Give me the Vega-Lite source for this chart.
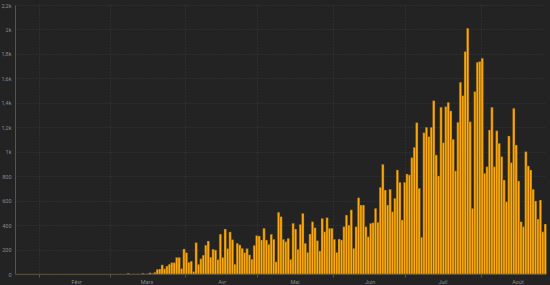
{
"$schema": "https://vega.github.io/schema/vega-lite/v6.json",
"width": 531, "height": 269,
"autosize": {"type": "none"},
"padding": {"left": 15, "top": 5, "right": 4, "bottom": 11},
"background": "#232323",
"config": {"view": {"stroke": null}, "font": "Roboto"},
"data": {"values": [
{"date":"2020-01-22","v":0},{"date":"2020-01-23","v":0},{"date":"2020-01-24","v":0},{"date":"2020-01-25","v":0},{"date":"2020-01-26","v":0},{"date":"2020-01-27","v":0},{"date":"2020-01-28","v":0},{"date":"2020-01-29","v":0},{"date":"2020-01-30","v":0},{"date":"2020-01-31","v":0},
{"date":"2020-02-01","v":0},{"date":"2020-02-02","v":0},{"date":"2020-02-03","v":0},{"date":"2020-02-04","v":0},{"date":"2020-02-05","v":0},{"date":"2020-02-06","v":0},{"date":"2020-02-07","v":0},{"date":"2020-02-08","v":0},{"date":"2020-02-09","v":0},{"date":"2020-02-10","v":0},
{"date":"2020-02-11","v":0},{"date":"2020-02-12","v":0},{"date":"2020-02-13","v":0},{"date":"2020-02-14","v":0},{"date":"2020-02-15","v":0},{"date":"2020-02-16","v":0},{"date":"2020-02-17","v":0},{"date":"2020-02-18","v":0},{"date":"2020-02-19","v":0},{"date":"2020-02-20","v":0},
{"date":"2020-02-21","v":0},{"date":"2020-02-22","v":0},{"date":"2020-02-23","v":0},{"date":"2020-02-24","v":0},{"date":"2020-02-25","v":0},{"date":"2020-02-26","v":0},{"date":"2020-02-27","v":0},{"date":"2020-02-28","v":0},{"date":"2020-02-29","v":0},
{"date":"2020-03-01","v":0},{"date":"2020-03-02","v":0},{"date":"2020-03-03","v":0},{"date":"2020-03-04","v":0},{"date":"2020-03-05","v":0},{"date":"2020-03-06","v":0},{"date":"2020-03-07","v":0},{"date":"2020-03-08","v":6},{"date":"2020-03-09","v":0},{"date":"2020-03-10","v":1},
{"date":"2020-03-11","v":0},{"date":"2020-03-12","v":1},{"date":"2020-03-13","v":0},{"date":"2020-03-14","v":6},{"date":"2020-03-15","v":1},{"date":"2020-03-16","v":2},{"date":"2020-03-17","v":10},{"date":"2020-03-18","v":4},{"date":"2020-03-19","v":14},{"date":"2020-03-20","v":38},
{"date":"2020-03-21","v":41},{"date":"2020-03-22","v":75},{"date":"2020-03-23","v":43},{"date":"2020-03-24","v":65},{"date":"2020-03-25","v":80},{"date":"2020-03-26","v":93},{"date":"2020-03-27","v":93},{"date":"2020-03-28","v":136},{"date":"2020-03-29","v":136},{"date":"2020-03-30","v":44},{"date":"2020-03-31","v":205},
{"date":"2020-04-01","v":175},{"date":"2020-04-02","v":96},{"date":"2020-04-03","v":105},{"date":"2020-04-04","v":20},{"date":"2020-04-05","v":257},{"date":"2020-04-06","v":79},{"date":"2020-04-07","v":125},{"date":"2020-04-08","v":154},{"date":"2020-04-09","v":236},{"date":"2020-04-10","v":270},
{"date":"2020-04-11","v":138},{"date":"2020-04-12","v":203},{"date":"2020-04-13","v":196},{"date":"2020-04-14","v":118},{"date":"2020-04-15","v":326},{"date":"2020-04-16","v":136},{"date":"2020-04-17","v":368},{"date":"2020-04-18","v":208},{"date":"2020-04-19","v":344},{"date":"2020-04-20","v":281},
{"date":"2020-04-21","v":80},{"date":"2020-04-22","v":251},{"date":"2020-04-23","v":238},{"date":"2020-04-24","v":210},{"date":"2020-04-25","v":175},{"date":"2020-04-26","v":208},{"date":"2020-04-27","v":157},{"date":"2020-04-28","v":121},{"date":"2020-04-29","v":234},{"date":"2020-04-30","v":315},
{"date":"2020-05-01","v":311},{"date":"2020-05-02","v":278},{"date":"2020-05-03","v":374},{"date":"2020-05-04","v":278},{"date":"2020-05-05","v":243},{"date":"2020-05-06","v":325},{"date":"2020-05-07","v":284},{"date":"2020-05-08","v":100},{"date":"2020-05-09","v":505},{"date":"2020-05-10","v":469},
{"date":"2020-05-11","v":284},{"date":"2020-05-12","v":265},{"date":"2020-05-13","v":292},{"date":"2020-05-14","v":120},{"date":"2020-05-15","v":415},{"date":"2020-05-16","v":368},{"date":"2020-05-17","v":202},{"date":"2020-05-18","v":406},{"date":"2020-05-19","v":496},{"date":"2020-05-20","v":251},
{"date":"2020-05-21","v":177},{"date":"2020-05-22","v":327},{"date":"2020-05-23","v":428},{"date":"2020-05-24","v":379},{"date":"2020-05-25","v":273},{"date":"2020-05-26","v":188},{"date":"2020-05-27","v":455},{"date":"2020-05-28","v":346},{"date":"2020-05-29","v":461},{"date":"2020-05-30","v":374},{"date":"2020-05-31","v":374},
{"date":"2020-06-01","v":284},{"date":"2020-06-02","v":177},{"date":"2020-06-03","v":286},{"date":"2020-06-04","v":278},{"date":"2020-06-05","v":387},{"date":"2020-06-06","v":482},{"date":"2020-06-07","v":400},{"date":"2020-06-08","v":525},{"date":"2020-06-09","v":210},{"date":"2020-06-10","v":387},
{"date":"2020-06-11","v":624},{"date":"2020-06-12","v":564},{"date":"2020-06-13","v":564},{"date":"2020-06-14","v":387},{"date":"2020-06-15","v":305},{"date":"2020-06-16","v":414},{"date":"2020-06-17","v":420},{"date":"2020-06-18","v":537},{"date":"2020-06-19","v":423},{"date":"2020-06-20","v":709},
{"date":"2020-06-21","v":897},{"date":"2020-06-22","v":687},{"date":"2020-06-23","v":564},{"date":"2020-06-24","v":693},{"date":"2020-06-25","v":510},{"date":"2020-06-26","v":619},{"date":"2020-06-27","v":851},{"date":"2020-06-28","v":750},{"date":"2020-06-29","v":442},{"date":"2020-06-30","v":750},
{"date":"2020-07-01","v":818},{"date":"2020-07-02","v":810},{"date":"2020-07-03","v":952},{"date":"2020-07-04","v":1036},{"date":"2020-07-05","v":1238},{"date":"2020-07-06","v":701},{"date":"2020-07-07","v":300},{"date":"2020-07-08","v":1156},{"date":"2020-07-09","v":1200},{"date":"2020-07-10","v":1124},
{"date":"2020-07-11","v":1200},{"date":"2020-07-12","v":1418},{"date":"2020-07-13","v":974},{"date":"2020-07-14","v":802},{"date":"2020-07-15","v":1364},{"date":"2020-07-16","v":1074},{"date":"2020-07-17","v":1369},{"date":"2020-07-18","v":1404},{"date":"2020-07-19","v":1334},{"date":"2020-07-20","v":1102},
{"date":"2020-07-21","v":843},{"date":"2020-07-22","v":1241},{"date":"2020-07-23","v":1568},{"date":"2020-07-24","v":1459},{"date":"2020-07-25","v":1819},{"date":"2020-07-26","v":2010},{"date":"2020-07-27","v":1246},{"date":"2020-07-28","v":537},{"date":"2020-07-29","v":1492},{"date":"2020-07-30","v":1732},{"date":"2020-07-31","v":1738},
{"date":"2020-08-01","v":1765},{"date":"2020-08-02","v":824},{"date":"2020-08-03","v":878},{"date":"2020-08-04","v":1178},{"date":"2020-08-05","v":1364},{"date":"2020-08-06","v":878},{"date":"2020-08-07","v":1172},{"date":"2020-08-08","v":1069},{"date":"2020-08-09","v":960},{"date":"2020-08-10","v":769},
{"date":"2020-08-11","v":592},{"date":"2020-08-12","v":1129},{"date":"2020-08-13","v":911},{"date":"2020-08-14","v":1355},{"date":"2020-08-15","v":1055},{"date":"2020-08-16","v":761},{"date":"2020-08-17","v":428},{"date":"2020-08-18","v":387},{"date":"2020-08-19","v":1001},{"date":"2020-08-20","v":884},
{"date":"2020-08-21","v":851},{"date":"2020-08-22","v":693},{"date":"2020-08-23","v":597},{"date":"2020-08-24","v":450},{"date":"2020-08-25","v":605},{"date":"2020-08-26","v":346},{"date":"2020-08-27","v":409}
]},
"mark": {"type": "bar", "fill": "#fcaa0c", "stroke": "#5a3d08", "strokeWidth": 0.4, "binSpacing": 0},
"encoding": {
  "x": {"field": "date", "type": "temporal", "timeUnit": "utcyearmonthdate",
    "scale": {"domain": [{"year": 2020, "month": 1, "date": 22, "utc": true}, {"year": 2020, "month": 8, "date": 28, "utc": true}]},
    "axis": {"title": null, "tickCount": {"interval": "month", "step": 1},
      "labelExpr": "['Janv','Févr','Mars','Avr','Mai','Juin','Juil','Août','Sept','Oct','Nov','Déc'][utcmonth(datum.value)]",
      "labelOffset": 37, "labelAlign": "center", "labelFlush": false, "labelOverlap": false,
      "labelFontSize": 5.5, "labelColor": "#8a8a8a", "labelPadding": 2,
      "domainColor": "#555555", "tickColor": "#555555", "tickSize": 3,
      "grid": true, "gridColor": "#3a3a3a", "gridDash": [1, 2]}},
  "y": {"field": "v", "type": "quantitative",
    "scale": {"domain": [0, 2200], "nice": false},
    "axis": {"title": null, "values": [0,200,400,600,800,1000,1200,1400,1600,1800,2000,2200],
      "labelExpr": "datum.value >= 1000 ? replace(datum.value/1000 + '', '.', ',') + 'k' : datum.value + ''",
      "labelFontSize": 5.5, "labelColor": "#8a8a8a", "labelPadding": 4, "ticks": false,
      "domainColor": "#555555", "grid": true, "gridColor": "#3a3a3a", "gridDash": [1, 2]}}
}
}
